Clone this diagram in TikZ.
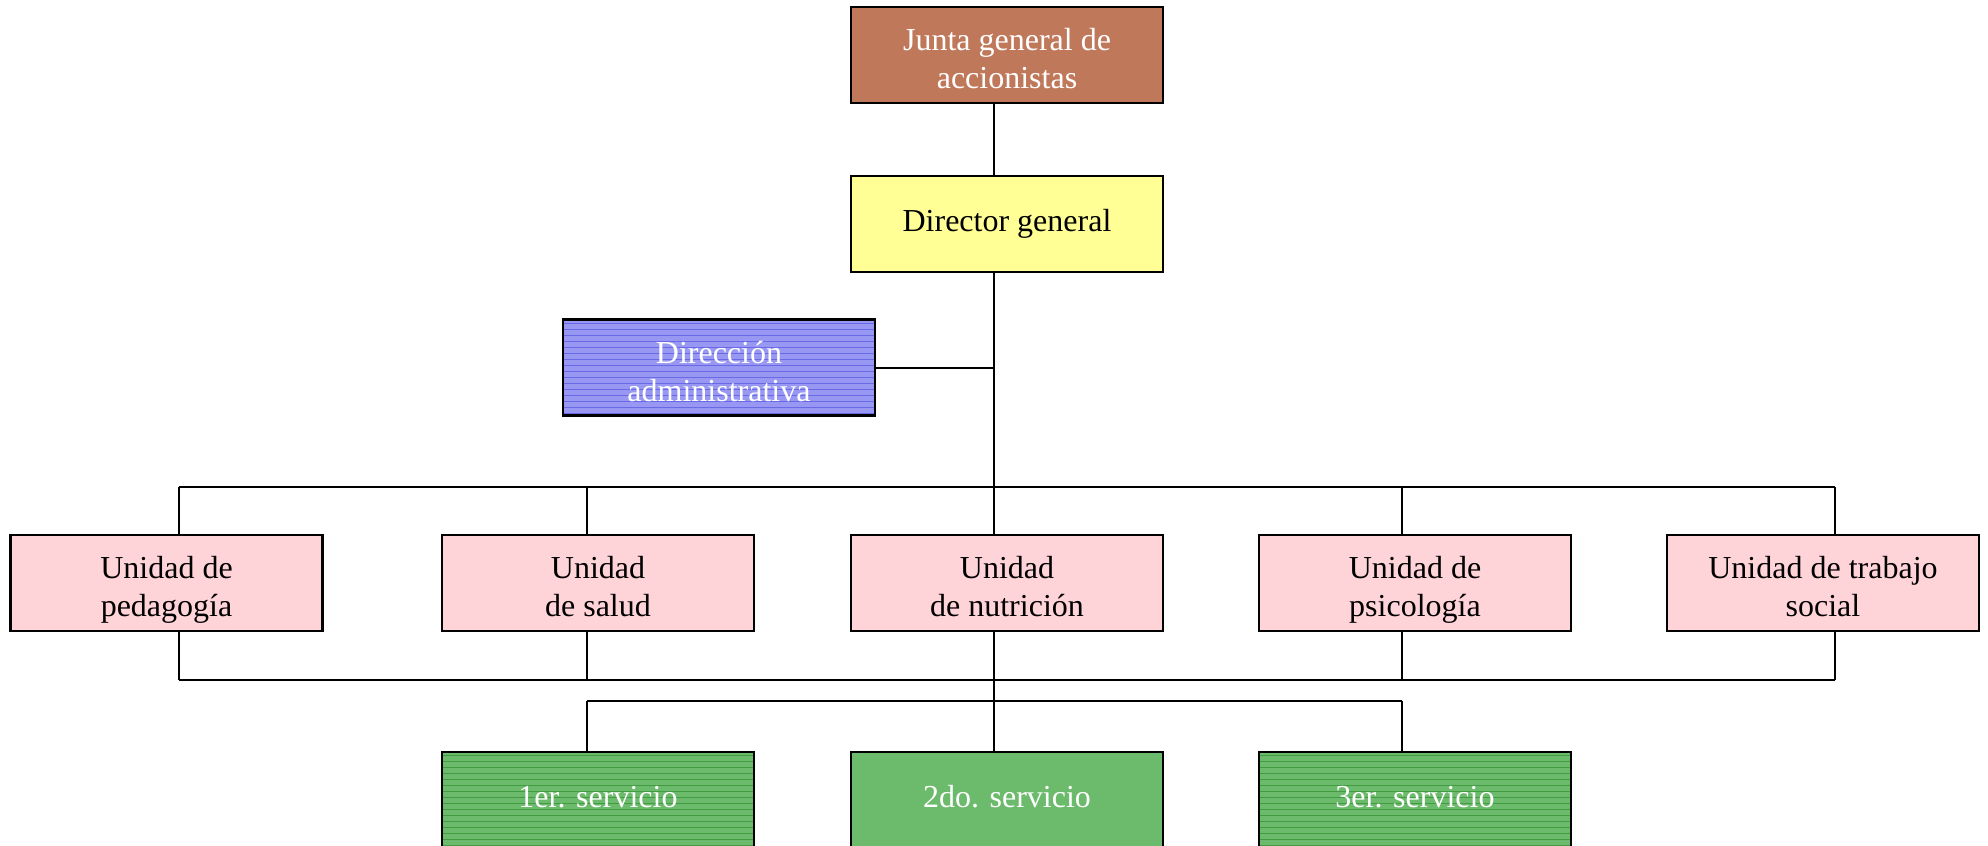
\documentclass[tikz,border=0pt]{standalone}
\usepackage{fontspec}
\setmainfont{Liberation Serif}
\usetikzlibrary{patterns}
\definecolor{juntafill}{RGB}{192,120,90}
\definecolor{dirfill}{RGB}{255,255,150}
\definecolor{admfill}{RGB}{152,152,242}
\definecolor{admline}{RGB}{105,105,232}
\definecolor{unitfill}{RGB}{255,212,217}
\definecolor{servfill}{RGB}{108,186,108}
\definecolor{servline}{RGB}{65,155,65}
% two centred lines, set a little below the middle of their box
\newcommand\twolines[2]{\raisebox{-3.6pt}[\height][\depth]{%
  \begin{tabular}{@{}c@{}}#1\\#2\end{tabular}}}
\begin{document}
\begin{tikzpicture}[x=0.5pt,y=-0.5pt,
  box/.style={draw=black, line width=1.2pt, minimum width=156pt, minimum height=48pt,
    inner sep=0pt, font=\fontsize{16}{19}\selectfont},
  oneline/.style={execute at begin node=\strut},
  juntabox/.style={box, fill=juntafill, text=white},
  dirbox/.style={box, oneline, fill=dirfill},
  admbox/.style={box, preaction={fill=admfill}, pattern=horizontal lines,
    pattern color=admline, text=white},
  unitbox/.style={box, fill=unitfill},
  servbox/.style={box, oneline, fill=servfill, text=white},
  servlined/.style={box, oneline, preaction={fill=servfill}, pattern=horizontal lines,
    pattern color=servline, text=white},
  link/.style={draw=black, line width=1pt}
]
\useasboundingbox (0,0) rectangle (1988,846);

% governing bodies
\node[juntabox] (junta) at (1007,55) {\twolines{Junta general de}{accionistas}};
\node[dirbox] (dg) at (1007,224) {Director general};
\node[admbox] (adm) at (719,367.5) {\twolines{Dirección}{administrativa}};

% units
\node[unitbox] (u1) at (166.5,583) {\twolines{Unidad de}{pedagogía}};
\node[unitbox] (u2) at (598,583) {\twolines{Unidad}{de salud}};
\node[unitbox] (u3) at (1007,583) {\twolines{Unidad}{de nutrición}};
\node[unitbox] (u4) at (1415,583) {\twolines{Unidad de}{psicología}};
\node[unitbox] (u5) at (1823,583) {\twolines{Unidad de trabajo}{social}};

% services
\node[servlined] (s1) at (598,800) {1er. servicio};
\node[servbox] (s2) at (1007,800) {2do. servicio};
\node[servlined] (s3) at (1415,800) {3er. servicio};

% bus levels
\coordinate (busA) at (0,487);
\coordinate (busB) at (0,680);
\coordinate (busC) at (0,701);

% tap points on the boxes
\coordinate (jb) at ([xshift=-6.5pt]junta.south);
\coordinate (dt) at ([xshift=-6.5pt]dg.north);
\coordinate (db) at ([xshift=-6.5pt]dg.south);
\coordinate (u1t) at ([xshift=6pt]u1.north);
\coordinate (u1b) at ([xshift=6pt]u1.south);
\coordinate (u2t) at ([xshift=-5.5pt]u2.north);
\coordinate (u2b) at ([xshift=-5.5pt]u2.south);
\coordinate (u3t) at ([xshift=-6.5pt]u3.north);
\coordinate (u3b) at ([xshift=-6.5pt]u3.south);
\coordinate (u4t) at ([xshift=-6.5pt]u4.north);
\coordinate (u4b) at ([xshift=-6.5pt]u4.south);
\coordinate (u5t) at ([xshift=6pt]u5.north);
\coordinate (u5b) at ([xshift=6pt]u5.south);
\coordinate (s1t) at ([xshift=-5.5pt]s1.north);
\coordinate (s2t) at ([xshift=-6.5pt]s2.north);
\coordinate (s3t) at ([xshift=-6.5pt]s3.north);

% connectors
\draw[link] (jb) -- (dt);
\draw[link] (db) -- (db |- busA);
\draw[link] (adm.east) -- (adm.east -| db);
\draw[link] (u1t |- busA) -- (u5t |- busA);
\foreach \u in {u1t,u2t,u3t,u4t,u5t} \draw[link] (\u |- busA) -- (\u);
\draw[link] (u1b |- busB) -- (u5b |- busB);
\foreach \u in {u1b,u2b,u4b,u5b} \draw[link] (\u) -- (\u |- busB);
\draw[link] (u3b) -- (s2t);
\draw[link] (s1t |- busC) -- (s3t |- busC);
\draw[link] (s1t |- busC) -- (s1t);
\draw[link] (s3t |- busC) -- (s3t);
\end{tikzpicture}
\end{document}
